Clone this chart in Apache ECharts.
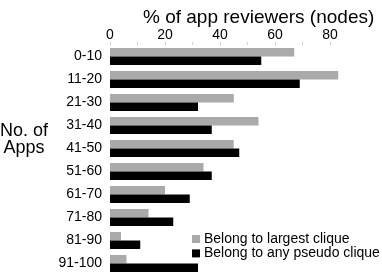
<!DOCTYPE html>
<html>
<head>
<meta charset="utf-8">
<script src="https://cdn.jsdelivr.net/npm/echarts@6/dist/echarts.min.js"></script>
<style>
html,body{margin:0;padding:0;background:#fff;}
#c{width:382px;height:275px;}
</style>
</head>
<body>
<div id="c"></div>
<script>
const categories = ['0-10','11-20','21-30','31-40','41-50','51-60','61-70','71-80','81-90','91-100'];
const largestClique = [67, 83, 45, 54, 45, 34, 20, 14, 4, 6];
const pseudoClique = [55, 69, 32, 37, 47, 37, 29, 23, 11, 32];
const seriesNames = ['Belong to largest clique', 'Belong to any pseudo clique'];
const xTicks = [0, 20, 40, 60, 80];

const FONT = '"Liberation Sans", Arial, Helvetica, sans-serif';
const chart = echarts.init(document.getElementById('c'), null, {renderer: 'canvas'});
chart.setOption({
  animation: false,
  backgroundColor: '#fff',
  textStyle: {fontFamily: FONT, color: '#000'},
  title: {
    text: '% of app reviewers (nodes)',
    left: 138, top: 3,
    textStyle: {fontFamily: FONT, fontSize: 19, fontWeight: 'normal', color: '#000'}
  },
  graphic: [{
    type: 'text',
    x: 24, y: 140,
    style: {
      text: 'No. of\nApps',
      font: '18px ' + FONT,
      fill: '#000',
      align: 'center',
      verticalAlign: 'middle',
      lineHeight: 17
    }
  }],
  legend: {
    orient: 'vertical',
    left: 187, top: 227,
    itemWidth: 8, itemHeight: 8, itemGap: 0.4,
    icon: 'rect',
    textStyle: {fontFamily: FONT, fontSize: 14, color: '#000', lineHeight: 13, padding: [0,0,0,-1]},
    data: seriesNames
  },
  grid: {left: 110, top: 45, width: 220, height: 230, containLabel: false},
  xAxis: {
    type: 'value', position: 'top',
    min: 0, max: 80, interval: 10,
    axisLine: {show: false},
    axisTick: {show: true, length: 3, lineStyle: {color: '#d0d0d0'}},
    splitLine: {show: false},
    axisLabel: {
      fontFamily: FONT, fontSize: 14, color: '#000', margin: 3,
      formatter: v => xTicks.indexOf(v) >= 0 ? String(v) : ''
    }
  },
  yAxis: {
    type: 'category', inverse: true,
    data: categories,
    axisLine: {show: false},
    axisTick: {show: false},
    axisLabel: {fontFamily: FONT, fontSize: 14, color: '#000', margin: 8}
  },
  series: [
    {name: seriesNames[0], type: 'bar', data: largestClique, barWidth: 8.5, barGap: '0%', clip: false,
     itemStyle: {color: '#aaaaaa'}},
    {name: seriesNames[1], type: 'bar', data: pseudoClique, barWidth: 8.5, barGap: '0%', clip: false,
     itemStyle: {color: '#000000'}}
  ]
});
</script>
</body>
</html>
